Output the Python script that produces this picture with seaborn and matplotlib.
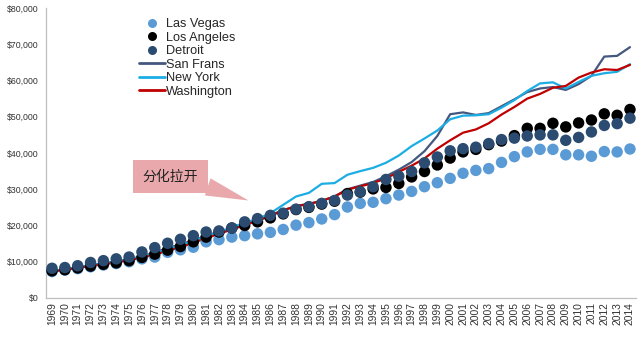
import matplotlib
matplotlib.use("Agg")
import numpy as np
import pandas as pd
import seaborn as sns
import matplotlib.pyplot as plt
from matplotlib.lines import Line2D

years = list(range(1969, 2015))

las_vegas = [7300, 7700, 8100, 8600, 9100, 9500, 10000, 10800, 11300, 12600,
             13300, 14000, 15500, 16100, 16800, 17200, 17700, 18100, 18900, 20100,
             20800, 21800, 23000, 25100, 26100, 26400, 27400, 28400, 29400, 30700,
             31800, 33000, 34400, 35200, 35700, 37400, 39000, 40300, 41000, 41000,
             39500, 39500, 39100, 40400, 40300, 41100]
los_angeles = [7500, 7800, 8300, 8800, 9300, 9700, 10300, 11200, 12100, 13200,
               14200, 15500, 16800, 18200, 19300, 20000, 21000, 22100, 23200, 24400,
               25000, 25900, 26700, 28800, 29200, 30100, 30500, 31600, 33400, 34900,
               36700, 38600, 40300, 41000, 42300, 43300, 44800, 46800, 46800, 48200,
               47200, 48300, 49100, 50800, 50400, 52000]
detroit = [8200, 8400, 8900, 9800, 10300, 10800, 11300, 12700, 13900, 15100,
           16200, 17200, 18200, 18500, 19300, 21000, 21900, 22800, 23400, 24500,
           25200, 26100, 26900, 28400, 29300, 30700, 32700, 33600, 34900, 37300,
           38900, 40600, 41200, 41600, 42600, 43700, 44100, 44700, 45000, 45000,
           43500, 44300, 45800, 47600, 48100, 49600]
san_frans = [7400, 7900, 8400, 9000, 9600, 10100, 10700, 11500, 12600, 13800,
             14800, 15900, 17200, 18300, 19300, 20500, 21600, 22900, 24200, 25400,
             26000, 26800, 28000, 30000, 31000, 32000, 33600, 35400, 37500, 40500,
             44700, 50700, 51200, 50500, 51000, 52900, 54800, 56800, 57800, 58200,
             57400, 59000, 61300, 66600, 66800, 69200]
new_york = [7400, 7900, 8400, 9000, 9500, 10000, 10600, 11300, 12300, 13400,
            14500, 15700, 17000, 18200, 19500, 20800, 21800, 23400, 25700, 28000,
            29000, 31500, 31700, 34000, 35000, 35900, 37300, 39300, 41900, 44000,
            46200, 49300, 50300, 50400, 50700, 52500, 54600, 57100, 59200, 59500,
            57800, 59600, 61300, 62000, 62400, 64500]
washington = [7300, 7800, 8300, 8800, 9300, 9800, 10400, 11100, 12000, 13000,
              14000, 15200, 16500, 17700, 18900, 20100, 21300, 22600, 24200, 25300,
              25900, 26800, 28000, 29900, 30800, 31700, 33000, 34800, 36500, 38500,
              41200, 43500, 45600, 46500, 48200, 50600, 52700, 55000, 56300, 58000,
              58500, 60800, 62200, 63100, 62900, 64300]

dot_names = ["Las Vegas", "Los Angeles", "Detroit"]
line_names = ["San Frans", "New York", "Washington"]
dot_colors = {"Las Vegas": "#5B9BD5", "Los Angeles": "#000000", "Detroit": "#2B4C70"}
line_colors = {"San Frans": "#44577E", "New York": "#1CADE4", "Washington": "#C00000"}

y_ticks = list(range(0, 80001, 10000))
y_tick_labels = ["${:,.0f}".format(v) for v in y_ticks]
annotation_text = "分化拉开"

dots_df = pd.DataFrame({
    "year": years * 3,
    "value": las_vegas + los_angeles + detroit,
    "city": sum([[n] * len(years) for n in dot_names], []),
})
lines_df = pd.DataFrame({
    "year": years * 3,
    "value": san_frans + new_york + washington,
    "city": sum([[n] * len(years) for n in line_names], []),
})

sns.set_theme(style="white")
plt.rcParams["font.family"] = ["Liberation Sans", "Noto Sans CJK SC", "DejaVu Sans"]

fig = plt.figure(figsize=(6.4, 3.37), dpi=100)
ax = fig.add_axes([45.6 / 640, 1 - 298 / 337, (636.4 - 45.6) / 640, 290 / 337])

sns.lineplot(data=lines_df, x="year", y="value", hue="city", hue_order=line_names,
             palette=line_colors, linewidth=1.6, legend=False, ax=ax, zorder=2)
sns.scatterplot(data=dots_df, x="year", y="value", hue="city", hue_order=dot_names,
                palette=dot_colors, s=68, edgecolor="none", linewidth=0,
                legend=False, ax=ax, zorder=3)

ax.set_xlim(years[0] - 0.5, years[-1] + 0.5)
ax.set_ylim(0, 80000)
ax.set_yticks(y_ticks)
ax.set_yticklabels(y_tick_labels, fontsize=6.3, color="#333333")
ax.set_xticks(years)
ax.set_xticklabels([str(y) for y in years], rotation=90, fontsize=7.4, color="#333333")
ax.set_xticks(np.arange(years[0] - 0.5, years[-1] + 1, 1), minor=True)
ax.tick_params(axis="x", which="major", length=0, pad=3)
ax.tick_params(axis="x", which="minor", length=3, direction="out", color="#BFBFBF", width=0.8)
ax.tick_params(axis="y", which="major", length=3, direction="out", color="#BFBFBF", width=0.8, pad=2)
ax.set_xlabel("")
ax.set_ylabel("")
for s in ["top", "right"]:
    ax.spines[s].set_visible(False)
for s in ["left", "bottom"]:
    ax.spines[s].set_color("#BFBFBF")
    ax.spines[s].set_linewidth(0.9)

ax.annotate(annotation_text, xy=(1984.3, 26900), xytext=(1978.2, 33500),
            fontsize=10, family=["Noto Sans CJK SC", "DejaVu Sans"], color="#222222",
            ha="center", va="center",
            bbox=dict(boxstyle="square,pad=0.7", fc="#E9A9AC", ec="none"),
            arrowprops=dict(arrowstyle="wedge,tail_width=1.3,shrink_factor=0.5",
                            fc="#E9A9AC", ec="none", shrinkA=0, shrinkB=0,
                            relpos=(0.92, 0.1)),
            zorder=1)

handles = [Line2D([], [], marker="o", linestyle="", color=dot_colors[n], markersize=6.5,
                  markeredgewidth=0) for n in dot_names]
handles += [Line2D([], [], color=line_colors[n], linewidth=2) for n in line_names]
ax.legend(handles, dot_names + line_names, loc="upper left",
          bbox_to_anchor=(139 / 640, 1 - 18 / 337), bbox_transform=fig.transFigure,
          frameon=False, fontsize=9.2, handlelength=2.0, handletextpad=0.1,
          labelspacing=0.12, borderpad=0, borderaxespad=0)

fig.savefig("out.png", dpi=100)
